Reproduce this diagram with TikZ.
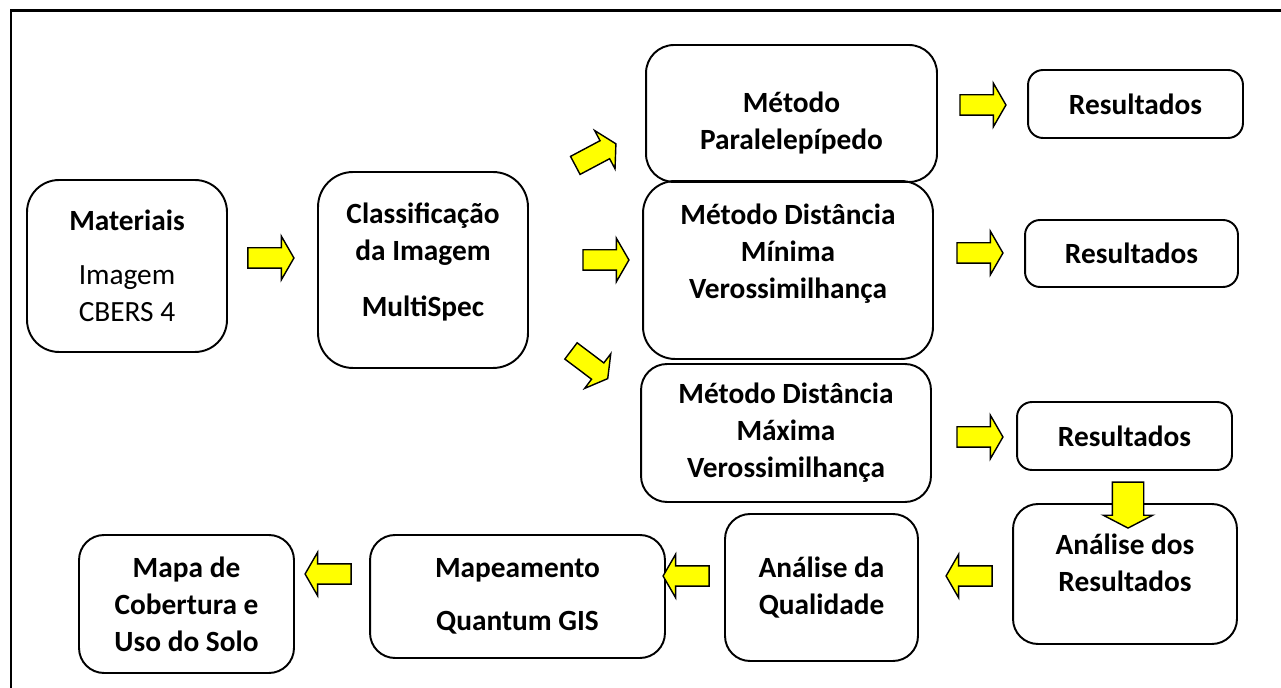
\documentclass[tikz,border=0pt]{standalone}
\usepackage{fontspec}
\setmainfont{Carlito}
\usepackage{tikz}
\usetikzlibrary{shapes.arrows,positioning}
\definecolor{arrowfill}{HTML}{FFFF00}

\begin{document}
\begin{tikzpicture}[x=0.02cm, y=-0.02cm,
    box/.style={rectangle, draw, line width=1.1pt, rounded corners=0.6cm, align=center, inner sep=2pt, font=\fontsize{16.7}{21}\selectfont\bfseries},
    res/.style={box, rounded corners=0.3cm, minimum width=4.3cm, minimum height=1.36cm},
    blk/.style={single arrow, draw, fill=arrowfill, line width=0.8pt, inner xsep=0pt, inner ysep=0.19cm, minimum height=0.92cm, minimum width=0pt, single arrow head extend=0.23cm, single arrow tip angle=120}
]
    \useasboundingbox (0,0) rectangle (1281,688);
    \begin{scope}
        \clip (0,0) rectangle (1281,688);
        \draw[line width=1.7pt] (11,11) rectangle (1300,710);
    \end{scope}

    % first row
    \node[box, rounded corners=0.64cm, minimum width=4cm, minimum height=3.44cm] (mat) at (127,266) {Materiais\\[10pt]\mdseries Imagem\\\mdseries CBERS 4};
    \node[box, rounded corners=0.7cm, minimum width=4.2cm, minimum height=3.92cm] (cls) at (423,270) {Classificação\\da Imagem\\[11pt]MultiSpec\\[-9pt]\mbox{}};

    % classification methods
    \node[box, rounded corners=0.56cm, minimum width=5.82cm, minimum height=2.74cm] (para) at (791.5,113.5) {\mbox{}\\[2pt]Método\\Paralelepípedo};
    \node[box, rounded corners=0.64cm, minimum width=5.8cm, minimum height=3.56cm] (mini) at (788,270) {Método Distância\\Mínima\\Verossimilhança\\\mbox{}};
    \node[box, rounded corners=0.52cm, minimum width=5.8cm, minimum height=2.76cm] (maxi) at (786,433) {Método Distância\\Máxima\\Verossimilhança};

    \node[res] (res1) at (1135.5,104) {Resultados};
    \node[res, minimum width=4.26cm, minimum height=1.34cm] (res2) at (1131.5,253.5) {Resultados};
    \node[res] (res3) at (1124.5,436) {Resultados};

    % bottom row
    \node[box, rounded corners=0.5cm, minimum width=4.48cm, minimum height=2.8cm] (ana) at (1125,574) {Análise dos\\Resultados\\[-8pt]\mbox{}};
    \node[box, rounded corners=0.5cm, minimum width=3.86cm, minimum height=2.94cm] (qual) at (821.5,587.5) {Análise da\\Qualidade};
    \node[box, rounded corners=0.5cm, minimum width=5.9cm, minimum height=2.46cm] (mapm) at (517.5,596.5) {Mapeamento\\[9pt]Quantum GIS};
    \node[box, rounded corners=0.5cm, minimum width=4.3cm, minimum height=2.76cm] (mapa) at (186.5,604) {Mapa de\\Cobertura e\\Uso do Solo};

    % yellow block arrows
    \node[blk] (a1) at (268,258) {};
    \node[blk] (a2) at (603,260) {};
    \node[blk, rotate=28] (a3) at (593,156) {};
    \node[blk, rotate=-37] (a4) at (587,363) {};
    \node[blk] (a5) at (980,105) {};
    \node[blk] (a6) at (977,253) {};
    \node[blk] (a7) at (977,437) {};
    \node[blk, rotate=-90, inner ysep=0.3cm, single arrow head extend=0.18cm, single arrow tip angle=125] (a8) at (1128,501) {};
    \node[blk, rotate=180] (a9) at (972,576) {};
    \node[blk, rotate=180] (a10) at (689,576) {};
    \node[blk, rotate=180] (a11) at (331,574) {};
\end{tikzpicture}
\end{document}
